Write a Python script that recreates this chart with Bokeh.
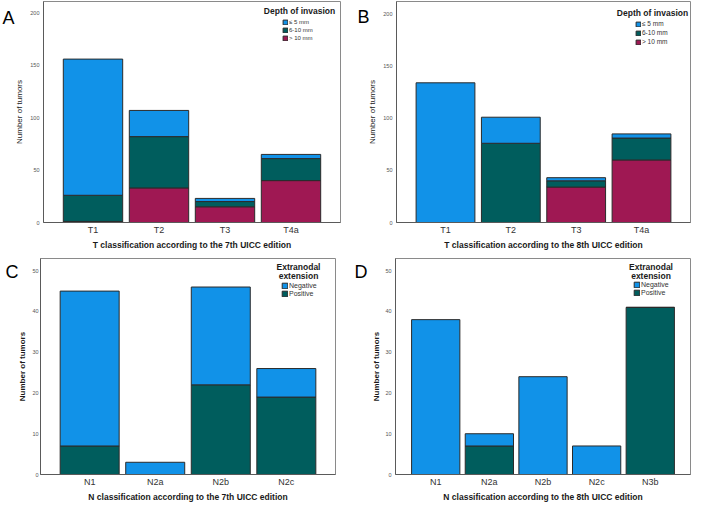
from bokeh.plotting import figure
from bokeh.models import FactorRange, Range1d, Legend, LegendItem, Label, FixedTicker, ColumnDataSource
from bokeh.layouts import column, row
from bokeh.embed import file_html
from bokeh.resources import INLINE

FONT = "Liberation Sans"
BLUE = "#1192e8"
TEAL = "#005d5d"
CRIMSON = "#9f1853"

# ---- data ----
t_categories = ["T1", "T2", "T3", "T4a"]
doi_labels = ["≤ 5 mm", "6-10 mm", "> 10 mm"]
t7_le5 = [130, 25, 3, 4]
t7_6to10 = [25, 49, 5, 21]
t7_gt10 = [1, 33, 15, 40]
t8_le5 = [134, 25, 3, 4]
t8_6to10 = [0, 76, 6, 21]
t8_gt10 = [0, 0, 34, 60]

n7_categories = ["N1", "N2a", "N2b", "N2c"]
n7_negative = [38, 3, 24, 7]
n7_positive = [7, 0, 22, 19]
n8_categories = ["N1", "N2a", "N2b", "N2c", "N3b"]
n8_negative = [38, 3, 24, 7, 0]
n8_positive = [0, 7, 0, 0, 41]
ene_labels = ["Negative", "Positive"]

t_ticks = [0, 50, 100, 150, 200]
n_ticks = [0, 10, 20, 30, 40, 50]

W, H = 346, 252


def panel(cats, stacks, colors, labels, y_end, ticks, xlabel, ylabel, ylabel_bold,
          letter, letter_xy, borders, title_lines, title_x, title_ys, leg_x, leg_top,
          row_h, glyph, item_font, ystand):
    left, right, top, bottom = borders
    p = figure(x_range=FactorRange(factors=cats, range_padding=0.25, range_padding_units="absolute"),
               y_range=Range1d(0, y_end), width=W, height=H,
               output_backend="svg", toolbar_location=None,
               min_border_left=left, min_border_right=right,
               min_border_top=top, min_border_bottom=bottom)
    data = {"cat": cats}
    names = []
    for i, vals in enumerate(stacks):
        data[f"s{i}"] = vals
        names.append(f"s{i}")
    src = ColumnDataSource(data)
    rs = p.vbar_stack(names, x="cat", width=0.9, source=src,
                      fill_color=colors, line_color="#2b2b2b", line_width=1)
    items = [LegendItem(label=labels[i], renderers=[rs[len(rs) - 1 - i]]) for i in range(len(rs))]
    frame_h = H - top - bottom
    leg_h = row_h * len(items)
    leg = Legend(items=items,
                 location=(leg_x - left, frame_h - (leg_top - top) - leg_h),
                 background_fill_alpha=0, border_line_alpha=0,
                 padding=0, margin=0, spacing=0,
                 glyph_width=glyph, glyph_height=glyph, label_height=row_h,
                 label_standoff=1, label_text_font=FONT,
                 label_text_font_size=f"{item_font}px", label_text_color="#333333")
    p.add_layout(leg)
    for txt, ty in zip(title_lines, title_ys):
        p.add_layout(Label(x=title_x, y=ty, x_units="canvas", y_units="canvas",
                           text=txt, text_font=FONT, text_font_size="8.5px",
                           text_font_style="bold", text_color="#1a1a1a",
                           text_align="center", text_baseline="middle"))
    lx, ly = letter_xy
    p.add_layout(Label(x=lx, y=ly, x_units="canvas", y_units="canvas",
                       text=letter, text_font=FONT, text_font_size="18px",
                       text_color="#000000", text_align="left", text_baseline="alphabetic"),
                 "left")

    p.xgrid.grid_line_color = None
    p.ygrid.grid_line_color = None
    p.outline_line_color = "#8a8a8a"
    p.outline_line_width = 1
    p.background_fill_color = "white"
    p.border_fill_color = "white"

    ms, ls = ystand
    p.yaxis.ticker = FixedTicker(ticks=ticks)
    p.yaxis.major_label_text_font = FONT
    p.yaxis.major_label_text_font_size = "5.5px"
    p.yaxis.major_label_text_color = "#555555"
    p.yaxis.major_label_standoff = ms
    p.yaxis.axis_label = ylabel
    p.yaxis.axis_label_text_font = FONT
    p.yaxis.axis_label_text_font_size = "8px"
    p.yaxis.axis_label_text_font_style = "bold" if ylabel_bold else "normal"
    p.yaxis.axis_label_text_color = "#1a1a1a"
    p.yaxis.axis_label_standoff = ls

    p.xaxis.major_label_text_font = FONT
    p.xaxis.major_label_text_font_size = "9px"
    p.xaxis.major_label_text_color = "#333333"
    p.xaxis.major_label_standoff = 2
    p.xaxis.axis_label = xlabel
    p.xaxis.axis_label_text_font = FONT
    p.xaxis.axis_label_text_font_size = "8.5px"
    p.xaxis.axis_label_text_font_style = "bold"
    p.xaxis.axis_label_text_color = "#1a1a1a"
    p.xaxis.axis_label_standoff = 2

    for ax in (p.xaxis, p.yaxis):
        ax.major_tick_line_color = None
        ax.minor_tick_line_color = None
        ax.major_tick_out = 0
        ax.major_tick_in = 0
        ax.minor_tick_out = 0
        ax.minor_tick_in = 0
        ax.axis_line_color = "#5a5a5a"
        ax.axis_line_width = 1
    return p


pA = panel(t_categories, [t7_gt10, t7_6to10, t7_le5], [CRIMSON, TEAL, BLUE], doi_labels,
           211, t_ticks, "T classification according to the 7th UICC edition", "Number of tumors", False,
           "A", (2, 17.5), (42, 6, 1, 30), ["Depth of invasion"], 299, [10.7],
           281, 18, 8, 6, 6, (4, 3))
pB = panel(t_categories, [t8_gt10, t8_6to10, t8_le5], [CRIMSON, TEAL, BLUE], doi_labels,
           212, t_ticks, "T classification according to the 8th UICC edition", "Number of tumors", False,
           "B", (11, 16.5), (50, 2, 1, 30), ["Depth of invasion"], 306, [12],
           289, 19, 9, 6, 6.5, (4, 3))
pC = panel(n7_categories, [n7_positive, n7_negative], [TEAL, BLUE], ene_labels,
           53, n_ticks, "N classification according to the 7th UICC edition", "Number of tumors", True,
           "C", (5, 19.4), (40, 11, 6, 29), ["Extranodal", "extension"], 298, [14.5, 23.3],
           281, 30, 8, 7, 7, (2, 2))
pD = panel(n8_categories, [n8_positive, n8_negative], [TEAL, BLUE], ene_labels,
           53, n_ticks, "N classification according to the 8th UICC edition", "Number of tumors", True,
           "D", (8, 19.4), (49, 2, 6, 28), ["Extranodal", "extension"], 304.5, [14.5, 23.3],
           287, 30, 8, 7, 7, (4, 1))

layout = column(row(pA, pB), row(pC, pD))
open("out.html", "w").write(file_html(layout, INLINE))
